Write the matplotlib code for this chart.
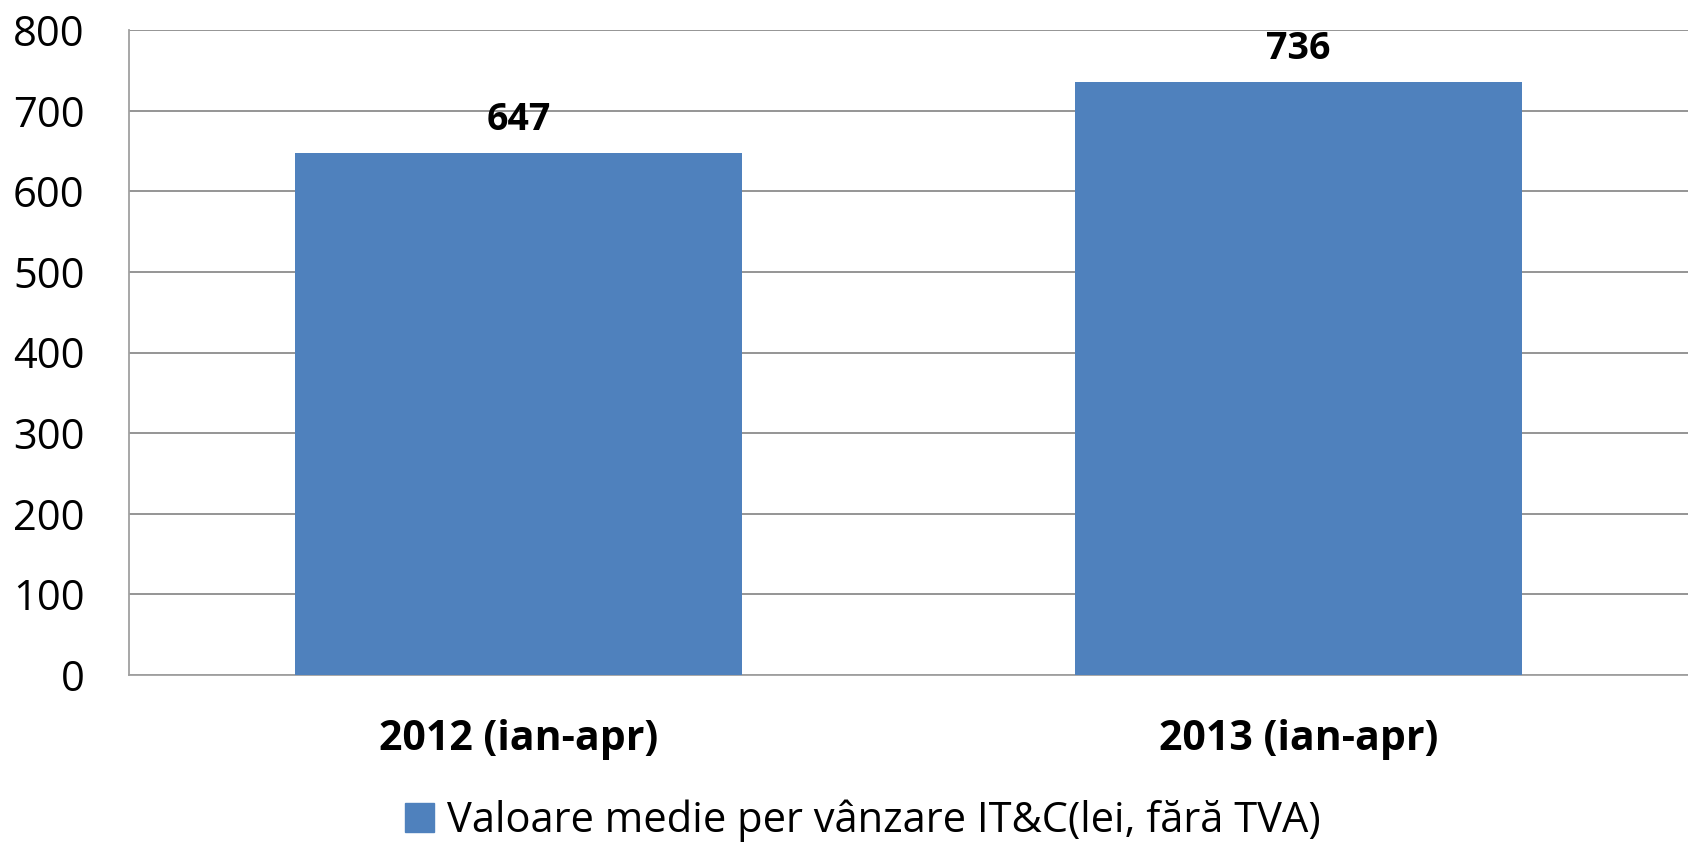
import matplotlib.pyplot as plt
from matplotlib.patches import Patch

categories = ['2012 (ian-apr)', '2013 (ian-apr)']
values = [647, 736]
yticks = [0, 100, 200, 300, 400, 500, 600, 700, 800]
legend_label = 'Valoare medie per vânzare IT&C(lei, fără TVA)'

plt.rcParams['font.family'] = ['Open Sans', 'DejaVu Sans']

bar_color = '#4F81BD'
grid_color = '#8C8C8C'

fig = plt.figure(figsize=(16.88, 8.42), dpi=100)
ax = fig.add_axes([129/1688, 1 - 675/842, 1 - 129/1688, (675 - 30)/842])

x = range(len(categories))
ax.bar(x, values, width=0.573, color=bar_color, zorder=3)
for xi, v in zip(x, values):
    ax.annotate(str(v), (xi, v), xytext=(0, 10), textcoords='offset points',
                ha='center', va='bottom', fontsize=27, fontweight='bold')

ax.set_xlim(-0.5, 1.5)
ax.set_ylim(0, 800)
ax.set_yticks(yticks)
ax.set_yticklabels([str(t) for t in yticks], fontsize=30)
ax.set_xticks(list(x))
ax.set_xticklabels(categories, fontsize=29.5, fontweight='bold')
ax.tick_params(axis='y', length=0, pad=32)
ax.tick_params(axis='x', length=0, pad=32)

ax.yaxis.grid(True, color=grid_color, linewidth=1.3, zorder=0)
for s in ['top', 'right']:
    ax.spines[s].set_visible(False)
ax.spines['left'].set_color('#A0A0A0')
ax.spines['bottom'].set_color('#A0A0A0')
ax.spines['left'].set_linewidth(1.3)
ax.spines['bottom'].set_linewidth(1.3)

fig.legend(handles=[Patch(color=bar_color, label=legend_label)],
           loc='center', bbox_to_anchor=(0.511, 1 - 821/842), frameon=False,
           fontsize=30, handlelength=0.7, handleheight=0.7, handletextpad=0.3)

fig.savefig('out.png', dpi=100)
